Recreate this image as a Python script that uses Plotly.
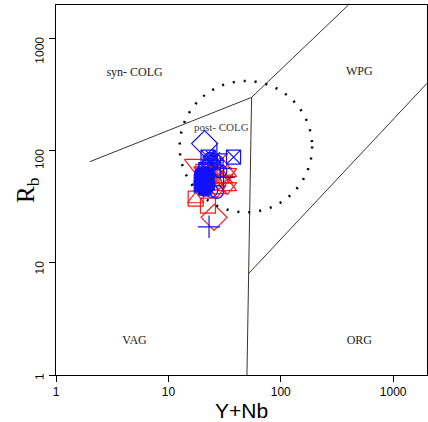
import numpy as np
import plotly.graph_objects as go

# field boundaries (Pearce et al. 1984 / 1996) in Y+Nb, Rb
syn_vag_x = [2, 55]
syn_vag_y = [80, 300]
vag_wpg_x = [55, 400]
vag_wpg_y = [300, 2000]
vag_org_x = [55, 51.5, 50]
vag_org_y = [300, 8, 1]
wpg_org_x = [51.5, 2000]
wpg_org_y = [8, 400]

# post-COLG field (dotted ellipse bounding box)
post_x = [12.6, 190]
post_y = [28.3, 420]

# samples
blue_diamond_x = [21]
blue_diamond_y = [116]
blue_sqx_x = [22.5, 38, 23.5, 21.5]
blue_sqx_y = [88, 88, 78, 68]
blue_circle_x = [24, 27, 22, 21, 24, 27, 20, 29, 19.5]
blue_circle_y = [85, 80, 60, 45, 44, 43, 55, 66, 62]
blue_plus_x = [23, 25, 29, 27, 31]
blue_plus_y = [21, 82, 70, 94, 58]
blue_x_x = [24, 26, 28, 22, 25, 23, 27]
blue_x_y = [90, 88, 78, 70, 65, 82, 72]
blue_sq_x = [19, 20, 21, 22, 20, 21, 23, 19, 22, 20.5, 21.5, 23, 19.5]
blue_sq_y = [55, 50, 52, 48, 58, 45, 55, 48, 62, 64, 57, 50, 60]

red_tridown_x = [17, 20.5]
red_tridown_y = [77, 66]
red_star_x = [33.5, 33.5, 31, 27]
red_star_y = [64, 48, 56, 45]
red_sq_x = [17.5, 22.5, 20.5]
red_sq_y = [37.5, 32.5, 65]
red_triup_x = [17.5, 24, 23, 26]
red_triup_y = [37, 48, 62, 55]
red_diamond_x = [25.5]
red_diamond_y = [25.5]
red_x_x = [24, 26, 28, 22, 30, 25, 27]
red_x_y = [72, 78, 68, 64, 85, 58, 60]

# field labels
field_names = ["syn- COLG", "WPG", "VAG", "ORG"]
field_x = [5, 500, 5, 500]
field_y = [490, 500, 2, 2]

tick_vals = [1, 10, 100, 1000]
tick_text = ["1", "10", "100", "1000"]

line_col = "#3f3030"
fig = go.Figure()

for xs, ys in [(syn_vag_x, syn_vag_y), (vag_wpg_x, vag_wpg_y),
               (vag_org_x, vag_org_y), (wpg_org_x, wpg_org_y)]:
    fig.add_trace(go.Scatter(x=xs, y=ys, mode="lines",
                             line=dict(color=line_col, width=1)))

fig.add_shape(type="circle", xref="x", yref="y",
              x0=post_x[0], x1=post_x[1], y0=post_y[0], y1=post_y[1],
              line=dict(color="black", width=2.5, dash="2px,9px"))

def pts(xs, ys, sym, col, size=14, width=1.2):
    fig.add_trace(go.Scatter(
        x=xs, y=ys, mode="markers",
        marker=dict(symbol=sym, size=size, color=col,
                    line=dict(color=col, width=width)),
    ))

blue = "#1010ff"
red = "#ff1a1a"

pts(red_tridown_x, red_tridown_y, "triangle-down-open", red, 17)
pts(red_star_x, red_star_y, "triangle-up-open", red, 16)
pts(red_star_x, red_star_y, "triangle-down-open", red, 16)
pts(red_sq_x, red_sq_y, "square-open", red, 15)
pts(red_triup_x, red_triup_y, "triangle-up-open", red, 14)
pts(red_diamond_x, red_diamond_y, "diamond-open", red, 20)
pts(red_x_x, red_x_y, "x-thin-open", red, 10)

pts(blue_diamond_x, blue_diamond_y, "diamond-open", blue, 20)
pts(blue_sqx_x, blue_sqx_y, "square-x-open", blue, 14)
pts(blue_circle_x, blue_circle_y, "circle-open", blue, 13)
pts(blue_plus_x, blue_plus_y, "cross-thin-open", blue, 16)
pts(blue_x_x, blue_x_y, "x-thin-open", blue, 10)
pts(blue_sq_x, blue_sq_y, "square", blue, 11)

fig.add_trace(go.Scatter(
    x=field_x, y=field_y, mode="text", text=field_names,
    textfont=dict(family="Liberation Serif", size=12, color="#222222"),
))
fig.add_trace(go.Scatter(
    x=[29.6], y=[158], mode="text", text=["post- COLG"],
    textfont=dict(family="Liberation Serif", size=11, color="#444444"),
))

axis_common = dict(
    type="log", showgrid=False, zeroline=False, automargin=False,
    showline=True, linecolor="black", linewidth=1, mirror=True,
    ticks="outside", ticklen=6, tickcolor="black",
    tickvals=tick_vals, ticktext=tick_text,
    tickfont=dict(family="Liberation Sans", size=12, color="black"),
)

fig.update_xaxes(**axis_common, range=[0, np.log10(2000)])
fig.update_yaxes(**axis_common, range=[0, np.log10(2000)], tickangle=-89.9,
                 ticklabelstandoff=9)

# axis titles
fig.add_annotation(x=0.5, y=-0.06, xref="paper", yref="paper", yanchor="top",
                   text="Y+Nb", showarrow=False,
                   font=dict(family="Liberation Sans", size=21, color="black"))
fig.add_annotation(x=-0.078, y=0.5, xref="paper", yref="paper", xanchor="center",
                   text="R<sub>b</sub>", showarrow=False, textangle=-90,
                   font=dict(family="Liberation Serif", size=25, color="black"))

fig.update_layout(
    width=428, height=422,
    margin=dict(l=56, r=1, t=5, b=47),
    paper_bgcolor="white", plot_bgcolor="white",
    showlegend=False,
)

fig.write_html("out.html", config={"displayModeBar": False},
               post_script="document.body.style.margin='0';")
